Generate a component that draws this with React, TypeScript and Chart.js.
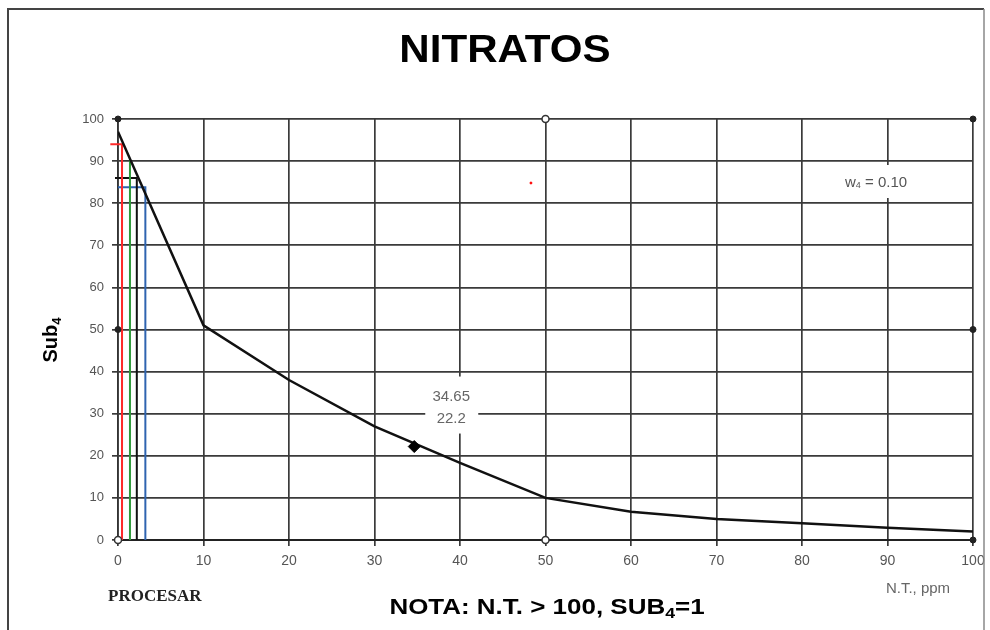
import React, { useEffect, useRef } from "react";
import { Chart, registerables } from "chart.js";

Chart.register(...registerables);

// ---- data ----
const curveX = [0, 10, 20, 30, 40, 50, 60, 70, 80, 90, 100];
const curveY = [97, 51, 38, 27, 18.3, 10, 6.7, 5, 4, 2.9, 2];
const markerX = [34.65];
const markerY = [22.2];
const guideX = [0.47, 1.4, 2.2, 3.2];
const guideY = [94, 90.7, 86, 83.8];
const guideStubX = [-0.9, 1.4, -0.35, 0];
const guideColors = ["#ff2a2a", "#2f9a3a", "#111111", "#2f64b0"];
const handleFilledX = [0, 100, 0, 100, 100];
const handleFilledY = [100, 100, 50, 50, 0];
const handleHollowX = [50, 0, 50];
const handleHollowY = [100, 0, 0];
const xTicks = [0, 10, 20, 30, 40, 50, 60, 70, 80, 90, 100];
const yTicks = [0, 10, 20, 30, 40, 50, 60, 70, 80, 90, 100];
const titleText = "NITRATOS";
const yTitleBase = "Sub";
const subDigit = "4";
const xUnitText = "N.T., ppm";
const weightText = "w";
const weightValue = " = 0.10";
const markerLabel = ["34.65", "22.2"];
const processText = "PROCESAR";
const noteBase = "NOTA: N.T. > 100, SUB";
const noteTail = "=1";

const SANS = "'Liberation Sans', Arial, sans-serif";

const textPlugin = {
  id: "texts",
  beforeDatasetsDraw(chart: any) {
    const ctx = chart.ctx;
    const xs = chart.scales.x;
    const ys = chart.scales.y;
    ctx.save();
    ctx.fillStyle = "#ffffff";
    const mx = xs.getPixelForValue(markerX[0]);
    const my = ys.getPixelForValue(markerY[0]);
    ctx.fillRect(mx + 11, my - 70, 53, 57);
    ctx.fillRect(838, 165, 82, 33);
    ctx.restore();
  },
  afterDraw(chart: any) {
    const ctx = chart.ctx;
    const xs = chart.scales.x;
    const ys = chart.scales.y;
    ctx.save();
    // outer frame
    ctx.strokeStyle = "#444";
    ctx.lineWidth = 2;
    ctx.beginPath();
    ctx.moveTo(8, 640);
    ctx.lineTo(8, 9);
    ctx.lineTo(984, 9);
    ctx.stroke();
    ctx.strokeStyle = "#888";
    ctx.lineWidth = 1.5;
    ctx.beginPath();
    ctx.moveTo(984, 9);
    ctx.lineTo(984, 640);
    ctx.stroke();

    // title (slightly stretched horizontally)
    ctx.fillStyle = "#000";
    ctx.textAlign = "center";
    ctx.textBaseline = "alphabetic";
    ctx.save();
    ctx.translate(505, 62);
    ctx.scale(1.08, 1);
    ctx.font = "bold 39px " + SANS;
    ctx.fillText(titleText, 0, 0);
    ctx.restore();

    // y title rotated
    ctx.save();
    ctx.translate(57, 340);
    ctx.rotate(-Math.PI / 2);
    ctx.font = "bold 20px " + SANS;
    const wb = ctx.measureText(yTitleBase).width;
    ctx.font = "bold 13px " + SANS;
    const ws = ctx.measureText(subDigit).width;
    const start = -(wb + ws) / 2;
    ctx.textAlign = "left";
    ctx.font = "bold 20px " + SANS;
    ctx.fillText(yTitleBase, start, 0);
    ctx.font = "bold 13px " + SANS;
    ctx.fillText(subDigit, start + wb, 4);
    ctx.restore();

    // marker label
    const mx = xs.getPixelForValue(markerX[0]);
    const my = ys.getPixelForValue(markerY[0]);
    ctx.fillStyle = "#666";
    ctx.font = "15px " + SANS;
    ctx.textAlign = "center";
    ctx.textBaseline = "middle";
    ctx.fillText(markerLabel[0], mx + 37, my - 50);
    ctx.fillText(markerLabel[1], mx + 37, my - 28);

    // weight label
    ctx.textAlign = "left";
    ctx.fillStyle = "#555";
    const wx = 845;
    const wy = 183;
    ctx.font = "15px " + SANS;
    ctx.fillText(weightText, wx, wy);
    const ww = ctx.measureText(weightText).width;
    ctx.font = "9px " + SANS;
    ctx.fillText(subDigit, wx + ww, wy + 3);
    const wsd = ctx.measureText(subDigit).width;
    ctx.font = "15px " + SANS;
    ctx.fillText(weightValue, wx + ww + wsd, wy);

    // x unit
    ctx.fillStyle = "#666";
    ctx.font = "15px " + SANS;
    ctx.textAlign = "center";
    ctx.fillText(xUnitText, 918, 589);

    // PROCESAR
    ctx.fillStyle = "#222";
    ctx.font = "bold 17px 'Liberation Serif', 'Times New Roman', serif";
    ctx.textAlign = "left";
    ctx.fillText(processText, 108, 597);

    // note (stretched horizontally)
    ctx.fillStyle = "#000";
    ctx.textBaseline = "alphabetic";
    ctx.save();
    ctx.font = "bold 22px " + SANS;
    const nb = ctx.measureText(noteBase).width;
    const nt = ctx.measureText(noteTail).width;
    ctx.font = "bold 15px " + SANS;
    const nd = ctx.measureText(subDigit).width;
    const sx = 1.18;
    const total = (nb + nt + nd) * sx;
    ctx.translate(547 - total / 2, 614);
    ctx.scale(sx, 1);
    ctx.font = "bold 22px " + SANS;
    ctx.fillText(noteBase, 0, 0);
    ctx.font = "bold 15px " + SANS;
    ctx.fillText(subDigit, nb, 4);
    ctx.font = "bold 22px " + SANS;
    ctx.fillText(noteTail, nb + nd, 0);
    ctx.restore();
    ctx.restore();
  },
};

export default function App() {
  const ref = useRef<HTMLCanvasElement | null>(null);
  useEffect(() => {
    if (!ref.current) return;
    const guides = guideX.map((gx, i) => ({
      type: "scatter" as const,
      data: [
        { x: guideStubX[i], y: guideY[i] },
        { x: gx, y: guideY[i] },
        { x: gx, y: 0 },
      ],
      showLine: true,
      borderColor: guideColors[i],
      borderWidth: 2,
      pointRadius: 0,
      clip: false as any,
      order: 3,
    }));
    const chart = new Chart(ref.current, {
      type: "scatter",
      data: {
        datasets: [
          ...guides,
          {
            data: curveX.map((x, i) => ({ x, y: curveY[i] })),
            showLine: true,
            borderColor: "#111",
            borderWidth: 2.5,
            pointRadius: 0,
            tension: 0,
            order: 2,
          },
          {
            data: markerX.map((x, i) => ({ x, y: markerY[i] })),
            pointStyle: "rectRot",
            pointRadius: 6,
            backgroundColor: "#000",
            borderColor: "#000",
            order: 1,
          },
          {
            data: handleFilledX.map((x, i) => ({ x, y: handleFilledY[i] })),
            pointRadius: 3,
            backgroundColor: "#222",
            borderColor: "#222",
            clip: false as any,
            order: 1,
          },
          {
            data: handleHollowX.map((x, i) => ({ x, y: handleHollowY[i] })),
            pointRadius: 3.5,
            backgroundColor: "#fff",
            borderColor: "#333",
            borderWidth: 1.5,
            clip: false as any,
            order: 1,
          },
          {
            data: [{ x: 48.3, y: 84.8 }],
            pointRadius: 1,
            backgroundColor: "#ff0000",
            borderColor: "#ff0000",
            order: 1,
          },
        ],
      },
      options: {
        animation: false,
        responsive: false,
        devicePixelRatio: 1,
        layout: { padding: { left: 72, right: 17, top: 119, bottom: 60 } },
        plugins: {
          legend: { display: false },
          tooltip: { enabled: false },
          title: { display: false },
        },
        scales: {
          x: {
            type: "linear",
            min: 0,
            max: 100,
            afterFit: (s: any) => {
              s.height = 30;
              s.paddingRight = 0;
              s.paddingLeft = 0;
            },
            afterBuildTicks: (s: any) => {
              s.ticks = xTicks.map((v) => ({ value: v }));
            },
            ticks: {
              color: "#555",
              padding: 7,
              maxRotation: 0,
              font: { family: SANS, size: 14 },
            },
            grid: { color: "#3a3a3a", lineWidth: 1.7, tickLength: 6 },
            border: { color: "#222", width: 2 },
          },
          y: {
            type: "linear",
            min: 0,
            max: 100,
            afterFit: (s: any) => {
              s.width = 46;
              s.paddingTop = 0;
              s.paddingBottom = 0;
            },
            afterBuildTicks: (s: any) => {
              s.ticks = yTicks.map((v) => ({ value: v }));
            },
            ticks: {
              color: "#555",
              padding: 8,
              font: { family: SANS, size: 13 },
            },
            grid: { color: "#3a3a3a", lineWidth: 1.7, tickLength: 6 },
            border: { color: "#333", width: 1.7 },
          },
        },
      },
      plugins: [textPlugin],
    } as any);
    return () => chart.destroy();
  }, []);
  return (
    <div style={{ position: "fixed", left: 0, top: 0, width: 990, height: 630, background: "#fff" }}>
      <canvas ref={ref} width={990} height={630} style={{ display: "block" }} />
    </div>
  );
}
